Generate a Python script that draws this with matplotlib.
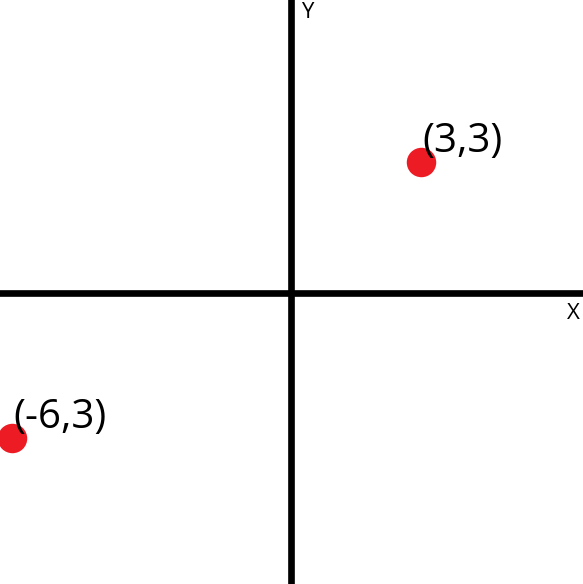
import matplotlib
matplotlib.use("Agg")
import matplotlib.pyplot as plt

# point positions as drawn, and the labels written next to them
px = [3.0, -6.44]
py = [3.02, -3.35]
labels = ["(3,3)", "(-6,3)"]

unit = 43.33  # pixels per unit
W, H = 583, 584
ox, oy = 291, 293  # origin in pixels (from top-left)

fig = plt.figure(figsize=(W / 100, H / 100), dpi=100)
ax = fig.add_axes([0, 0, 1, 1])
ax.set_xlim(-ox / unit, (W - ox) / unit)
ax.set_ylim(-(H - oy) / unit, oy / unit)
ax.axis("off")

ax.axhline(0, color="black", lw=4.8)
ax.axvline(0, color="black", lw=4.8)

ax.scatter(px, py, s=450, color="#ed1c24", zorder=3, linewidths=0)
for x, y, lab in zip(px, py, labels):
    ax.annotate(lab, (x, y), xytext=(1, 10), textcoords="offset pixels",
                fontsize=29, family="Open Sans", va="baseline", ha="left")

ax.text(10 / unit, oy / unit - 2 / unit, "Y", fontsize=16, family="Open Sans",
        va="top", ha="left")
ax.text((W - 3) / unit - ox / unit, -10 / unit, "X", fontsize=16, family="Open Sans",
        va="top", ha="right")

fig.savefig("out.png", dpi=100)
